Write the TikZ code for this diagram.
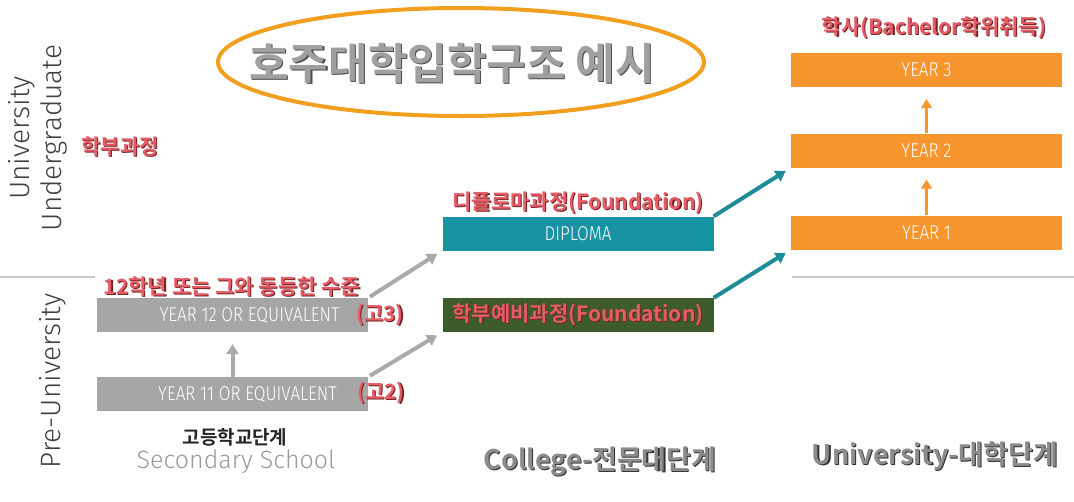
\documentclass[tikz,border=0pt]{standalone}
\usepackage{fontspec}
\usetikzlibrary{arrows.meta,shapes.geometric}
\newfontfamily\kr{Noto Sans CJK KR}[BoldFont={Noto Sans CJK KR Bold}]
\newfontfamily\thinf{Fira Sans Light}
\definecolor{redt}{RGB}{228,92,102}
\definecolor{redsh}{RGB}{120,36,36}
\definecolor{boxgray}{RGB}{166,166,166}
\definecolor{arrgray}{RGB}{170,170,170}
\definecolor{teal}{RGB}{24,147,162}
\definecolor{tealarr}{RGB}{30,140,152}
\definecolor{dkgreen}{RGB}{62,91,43}
\definecolor{orng}{RGB}{247,149,46}
\definecolor{ellor}{RGB}{240,160,30}
\definecolor{titlegray}{RGB}{160,160,160}
\definecolor{linegray}{RGB}{200,200,200}
\definecolor{labgray}{RGB}{64,64,64}
\newcommand\shd[3]{\rlap{\kern1.2pt\raisebox{-1.2pt}{\color{#2}#3}}{\color{#1}#3}}
\newcommand\cond[1]{\scalebox{0.85}[1]{#1}}
\tikzset{
  redlab/.style={inner sep=0pt, font=\kr\bfseries\fontsize{21}{23}\selectfont},
  stagebox/.style={inner sep=0pt, minimum width=271pt, minimum height=34pt, text=white,
     font=\thinf\fontsize{20}{22}\selectfont},
  graybox/.style={stagebox, fill=boxgray},
  orangebox/.style={stagebox, fill=orng},
  sidelab/.style={inner sep=0pt, rotate=90, align=center, text=labgray,
     font=\thinf\fontsize{28}{32}\selectfont},
  grayarrow/.style={draw=arrgray, line width=4pt, -{Triangle[length=10pt,width=12pt]}},
  tealarrow/.style={draw=tealarr, line width=4pt, -{Triangle[length=10pt,width=12pt]}},
  orangearrow/.style={draw=orng, line width=3.5pt, -{Triangle[length=9pt,width=11pt]}},
  stagelab/.style={inner sep=0pt, font=\kr\bfseries\fontsize{27}{29}\selectfont},
}
\begin{document}
\begin{tikzpicture}[x=1pt,y=-1pt]
\useasboundingbox (0,0) rectangle (1074,501);
% divider lines
\coordinate (la) at (0,277);
\coordinate (lb) at (95,277);
\coordinate (lc) at (792,277);
\coordinate (ld) at (1074,277);
\draw[linegray, line width=1.2pt] (la) -- (lb);
\draw[linegray, line width=1.2pt] (lc) -- (ld);
% title
\node[draw=ellor, line width=4pt, ellipse, minimum width=486pt, minimum height=108pt, inner sep=0pt] (title) at (461,62) {};
\node[inner sep=0pt, font=\kr\bfseries\fontsize{43}{45}\selectfont] (titletext) at (452,64) {\shd{titlegray}{black!70}{호주대학입학구조 예시}};
% side labels
\node[sidelab] (ug) at (38,138) {University\\Undergraduate};
\node[sidelab] (pu) at (53,381) {Pre-University};
\node[redlab] (hakbu) at (120,147) {\shd{redt}{redsh}{학부과정}};
% secondary
\node[redlab] (l12) at (232,287) {\shd{redt}{redsh}{12학년 또는 그와 동등한 수준}};
\node[graybox] (y12) at (232.5,315) {\hspace*{34pt}\cond{YEAR 12 OR EQUIVALENT}};
\node[graybox] (y11) at (232.5,394) {\hspace*{30pt}\cond{YEAR 11 OR EQUIVALENT}};
\node[redlab] (go3) at (380,315) {\shd{redt}{redsh}{(고3)}};
\node[redlab] (go2) at (381,393) {\shd{redt}{redsh}{(고2)}};
\node[inner sep=0pt, font=\kr\bfseries\fontsize{19}{21}\selectfont, text=black!85] (hs) at (235,437) {고등학교단계};
\node[inner sep=0pt, font=\thinf\fontsize{25}{27}\selectfont, text=black!40] (ss) at (236,462) {Secondary School};
% college
\node[redlab] (dlab) at (578,203) {\shd{redt}{redsh}{디플로마과정(Foundation)}};
\node[stagebox, fill=teal] (dip) at (578,233.5) {\cond{DIPLOMA}};
\node[stagebox, fill=dkgreen, font=\kr\bfseries\fontsize{21}{23}\selectfont] (fnd) at (578,315) {\shd{redt}{redsh}{학부예비과정(Foundation)}};
\node[stagelab] (col) at (600,462) {\shd{black!45}{black!80}{College-전문대단계}};
% university
\node[redlab] (bach) at (934,28) {\shd{redt}{redsh}{학사(Bachelor학위취득)}};
\node[orangebox] (u3) at (926.5,70) {\cond{YEAR 3}};
\node[orangebox] (u2) at (926.5,150.5) {\cond{YEAR 2}};
\node[orangebox] (u1) at (926.5,232.5) {\cond{YEAR 1}};
\node[stagelab] (uni) at (935,457) {\shd{black!45}{black!80}{University-대학단계}};
% arrows
\draw[grayarrow, shorten >=12pt] (y11.north) -- (y12.south);
\draw[grayarrow, shorten <=2pt, shorten >=6pt] (y12.north east) -- (dip.south west);
\draw[grayarrow, shorten <=2pt, shorten >=6pt] (y11.north east) -- (fnd.south west);
\draw[tealarrow, shorten >=6pt] (dip.north east) -- (u2.south west);
\draw[tealarrow, shorten >=6pt] (fnd.north east) -- (u1.south west);
\draw[orangearrow, shorten >=12pt] (u1.north) -- (u2.south);
\draw[orangearrow, shorten >=12pt] (u2.north) -- (u3.south);
\end{tikzpicture}
\end{document}
